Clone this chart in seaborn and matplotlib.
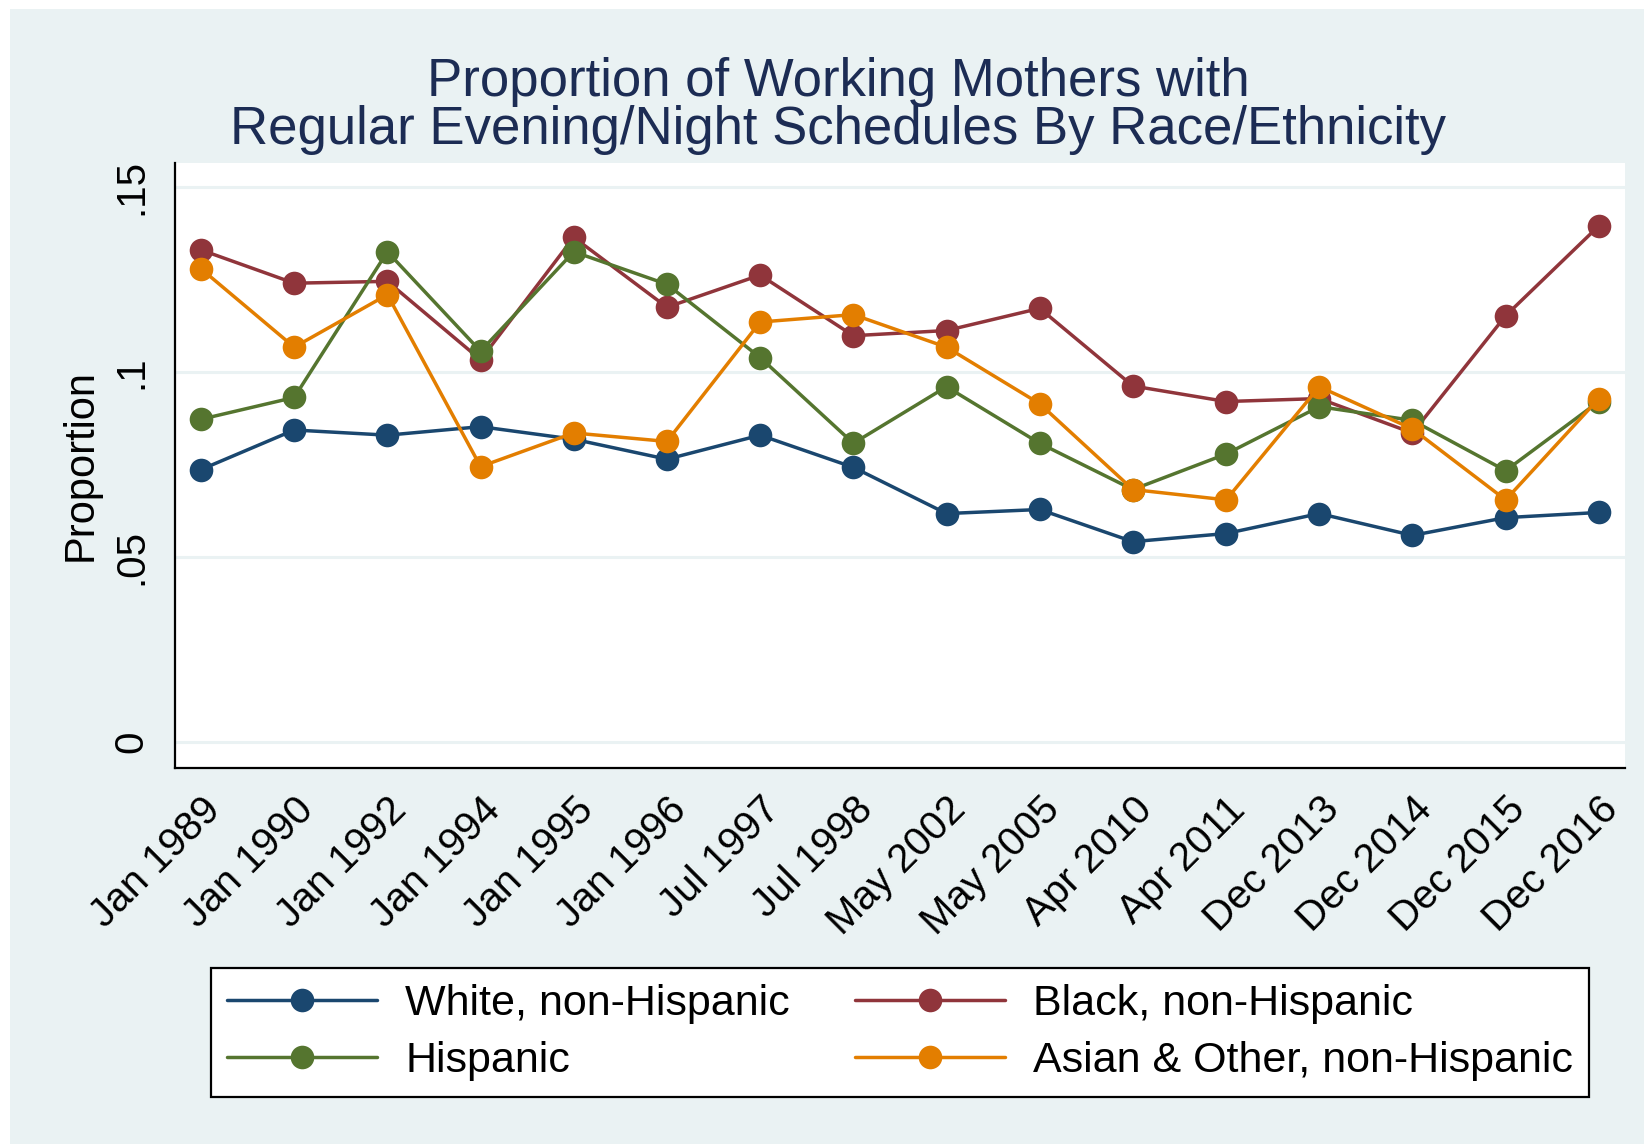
import numpy as np
import pandas as pd
import matplotlib
matplotlib.use("Agg")
import matplotlib.pyplot as plt
import matplotlib.transforms as mtransforms
from matplotlib.patches import Rectangle
from matplotlib.lines import Line2D
import seaborn as sns

dates = ["Jan 1989", "Jan 1990", "Jan 1992", "Jan 1994", "Jan 1995", "Jan 1996",
         "Jul 1997", "Jul 1998", "May 2002", "May 2005", "Apr 2010", "Apr 2011",
         "Dec 2013", "Dec 2014", "Dec 2015", "Dec 2016"]

white = [0.0736, 0.0843, 0.0829, 0.0852, 0.0818, 0.0764, 0.0829, 0.0742,
         0.0617, 0.0628, 0.0541, 0.0563, 0.0617, 0.0558, 0.0606, 0.0620]
black = [0.1330, 0.1240, 0.1245, 0.1033, 0.1364, 0.1175, 0.1262, 0.1098,
         0.1112, 0.1172, 0.0962, 0.0920, 0.0928, 0.0835, 0.1152, 0.1395]
hispanic = [0.0872, 0.0931, 0.1325, 0.1056, 0.1325, 0.1237, 0.1039, 0.0807,
            0.0960, 0.0807, 0.0682, 0.0778, 0.0906, 0.0869, 0.0733, 0.0920]
asian = [0.1279, 0.1067, 0.1209, 0.0744, 0.0835, 0.0812, 0.1135, 0.1155,
         0.1067, 0.0914, 0.0682, 0.0654, 0.0960, 0.0846, 0.0654, 0.0928]

groups = ["White, non-Hispanic", "Black, non-Hispanic", "Hispanic",
          "Asian & Other, non-Hispanic"]
colors = ["#1a476f", "#90353b", "#55752f", "#e37e00"]

yticks = [0, 0.05, 0.1, 0.15]
yticklabels = ["0", ".05", ".1", ".15"]

rows = []
for g, vals in zip(groups, [white, black, hispanic, asian]):
    for i, (d, v) in enumerate(zip(dates, vals)):
        rows.append({"idx": i, "date": d, "value": v, "group": g})
df = pd.DataFrame(rows)

sns.set_style("white")
plt.rcParams["font.family"] = ["Liberation Sans", "DejaVu Sans"]
plt.rcParams["text.color"] = "black"
plt.rcParams["axes.labelcolor"] = "black"
plt.rcParams["xtick.color"] = "black"
plt.rcParams["ytick.color"] = "black"

BG = "#eaf2f3"
fig = plt.figure(figsize=(16.44, 11.44), dpi=100, facecolor="white")
fig.patches.append(Rectangle((10 / 1644, 0), 1 - 10 / 1644, 1 - 9 / 1144,
                             transform=fig.transFigure, facecolor=BG,
                             edgecolor="none", zorder=-10))

ax = fig.add_axes([0.1064, 0.3287, 0.8820, 0.5288])
ax.set_facecolor("white")

sns.lineplot(data=df, x="idx", y="value", hue="group", hue_order=groups,
             palette=colors, marker="o", markersize=17, markeredgewidth=0,
             linewidth=2.5, sort=False, legend=False, ax=ax)

ax.set_xlim(-0.28, 15.28)
ax.set_ylim(-0.0071, 0.1565)
ax.set_xticks(range(len(dates)))
ax.set_xticklabels(dates, rotation=45, ha="right", rotation_mode="anchor",
                   fontsize=29)
offset = mtransforms.ScaledTranslation(-8 / 100, 0, fig.dpi_scale_trans)
for lab in ax.get_xticklabels():
    lab.set_transform(lab.get_transform() + offset)
ax.set_yticks(yticks)
ax.set_yticklabels(yticklabels, rotation=90, va="center", fontsize=29)
ax.tick_params(axis="both", direction="out", length=12, width=1.6,
               color="black", pad=6)
ax.tick_params(axis="x", pad=4)
for y in yticks:
    ax.axhline(y, color=BG, lw=2.2, zorder=0)
for s in ["top", "right"]:
    ax.spines[s].set_visible(False)
for s in ["left", "bottom"]:
    ax.spines[s].set_color("black")
    ax.spines[s].set_linewidth(1.6)
ax.set_xlabel("")
ax.set_ylabel("Proportion", fontsize=30, labelpad=8)

fig.text(0.510, 1 - 82 / 1144, "Proportion of Working Mothers with",
         ha="center", va="center", fontsize=38, color="#1c2c54")
fig.text(0.510, 1 - 130 / 1144, "Regular Evening/Night Schedules By Race/Ethnicity",
         ha="center", va="center", fontsize=38, color="#1c2c54")

handles = [Line2D([0], [0], color=c, lw=2.5, marker="o", markersize=17,
                  markeredgewidth=0) for c in colors]
# column-major fill: col 1 = White, Hispanic; col 2 = Black, Asian
order = [0, 2, 1, 3]
leg = fig.legend([handles[i] for i in order], [groups[i] for i in order],
                 loc="center", bbox_to_anchor=(0.5475, 0.0975),
                 ncol=2, fontsize=31, frameon=True, framealpha=1,
                 fancybox=False, edgecolor="black", handlelength=3.5,
                 borderaxespad=0, columnspacing=1.5, handletextpad=0.65,
                 labelspacing=0.4, borderpad=0.36)
leg.get_frame().set_linewidth(1.6)
leg.get_frame().set_facecolor("white")
for t in leg.get_texts():
    t.set_color("black")

fig.savefig("out.png", dpi=100, facecolor=fig.get_facecolor())
